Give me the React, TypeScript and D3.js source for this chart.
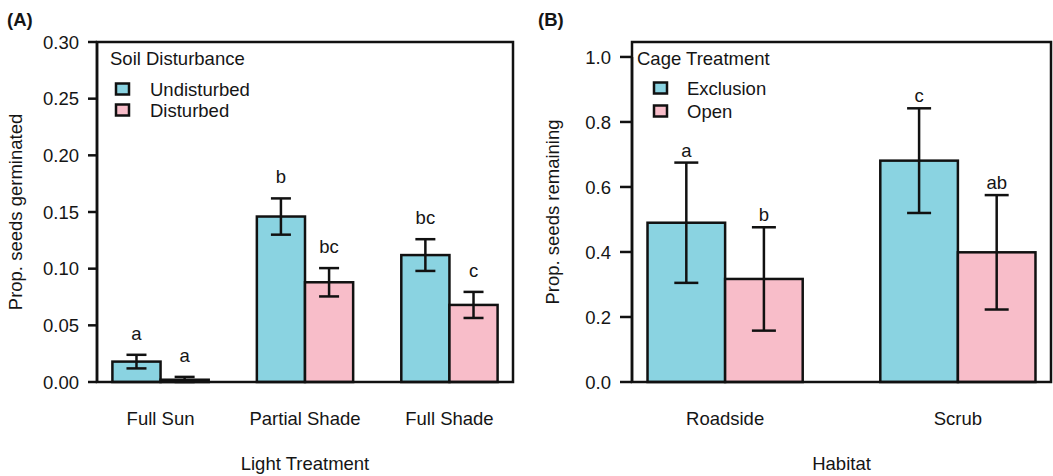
import React from 'react';
import * as d3 from 'd3';

// Panel A: germination by light treatment
const lightCategories = ['Full Sun', 'Partial Shade', 'Full Shade'];
const soilSeries = ['Undisturbed', 'Disturbed'];
const undisturbedMean = [0.018, 0.146, 0.112];
const undisturbedSE = [0.006, 0.016, 0.014];
const disturbedMean = [0.002, 0.088, 0.068];
const disturbedSE = [0.0025, 0.0125, 0.0115];
const undisturbedLetters = ['a', 'b', 'bc'];
const disturbedLetters = ['a', 'bc', 'c'];
const germTicks = [0, 0.05, 0.1, 0.15, 0.2, 0.25, 0.3];

// Panel B: seed removal by habitat
const habitatCategories = ['Roadside', 'Scrub'];
const cageSeries = ['Exclusion', 'Open'];
const exclusionMean = [0.49, 0.681];
const exclusionSE = [0.185, 0.161];
const openMean = [0.317, 0.399];
const openSE = [0.159, 0.176];
const exclusionLetters = ['a', 'c'];
const openLetters = ['b', 'ab'];
const remainTicks = [0, 0.2, 0.4, 0.6, 0.8, 1.0];

const colors = ['#8AD3E1', '#F8BDC9'];
const FONT = 'Liberation Sans, Arial, Helvetica, sans-serif';
const FS = 18.5;
const INK = '#151515';
const LW = 2.5;

type PanelProps = {
  tag: string;
  tagX: number;
  left: number;
  right: number;
  top: number;
  bottom: number;
  yMax: number;
  ticks: number[];
  fmt: string;
  tickLen: number;
  categories: string[];
  series: string[];
  means: number[][];
  ses: number[][];
  letters: string[][];
  letterGap: number;
  capHalf: number;
  yTitle: string;
  yTitleX: number;
  xTitle: string;
  legendTitle: string;
  legendTitleX: number;
  swatchX: number;
  legendTextX: number;
  legendY: number[];
};

function Panel(p: PanelProps) {
  const y = d3.scaleLinear().domain([0, p.yMax]).range([p.bottom, p.top]);
  // R barplot style: bars of width 1, one bar of space between groups, 4% margin
  const units = p.categories.length * (p.series.length + 1) - 1;
  const outer = (0.04 * units) / (p.series.length + 1);
  const x = d3
    .scaleBand<string>()
    .domain(p.categories)
    .range([p.left, p.right])
    .paddingInner(1 / (p.series.length + 1))
    .paddingOuter(outer);
  const xs = d3.scaleBand<string>().domain(p.series).range([0, x.bandwidth()]);
  const fmt = d3.format(p.fmt);
  const midX = (p.left + p.right) / 2;
  const midY = (p.top + p.bottom) / 2;

  return (
    <g fontFamily={FONT} fontSize={FS} fill={INK}>
      <text x={p.tagX} y={26} fontWeight="bold">{p.tag}</text>

      {/* bars */}
      {p.categories.map((c, i) =>
        p.series.map((s, j) => {
          const v = p.means[j][i];
          const se = p.ses[j][i];
          const bx = (x(c) as number) + (xs(s) as number);
          const cx = bx + xs.bandwidth() / 2;
          const hi = y(v + se);
          const lo = y(Math.max(0, v - se));
          return (
            <g key={c + s}>
              <rect
                x={bx}
                y={y(v)}
                width={xs.bandwidth()}
                height={p.bottom - y(v)}
                fill={colors[j]}
                stroke="#111"
                strokeWidth={LW}
              />
              <g stroke="#111" strokeWidth={LW}>
                <line x1={cx} x2={cx} y1={hi} y2={lo} />
                <line x1={cx - p.capHalf} x2={cx + p.capHalf} y1={hi} y2={hi} />
                <line x1={cx - p.capHalf} x2={cx + p.capHalf} y1={lo} y2={lo} />
              </g>
              <text x={cx} y={hi - p.letterGap} textAnchor="middle">
                {p.letters[j][i]}
              </text>
            </g>
          );
        })
      )}

      {/* box */}
      <rect
        x={p.left}
        y={p.top}
        width={p.right - p.left}
        height={p.bottom - p.top}
        fill="none"
        stroke="#111"
        strokeWidth={LW}
      />

      {/* y axis */}
      <line
        x1={p.left}
        x2={p.left}
        y1={y(p.ticks[0])}
        y2={y(p.ticks[p.ticks.length - 1])}
        stroke="#111"
        strokeWidth={LW}
      />
      {p.ticks.map((t) => (
        <g key={t}>
          <line
            x1={p.left - p.tickLen}
            x2={p.left}
            y1={y(t)}
            y2={y(t)}
            stroke="#111"
            strokeWidth={LW}
          />
          <text x={p.left - p.tickLen - 9} y={y(t)} dy="0.36em" textAnchor="end">
            {fmt(t)}
          </text>
        </g>
      ))}
      <text
        transform={`translate(${p.yTitleX},${midY}) rotate(-90)`}
        textAnchor="middle"
      >
        {p.yTitle}
      </text>

      {/* x labels */}
      {p.categories.map((c) => (
        <text key={c} x={(x(c) as number) + x.bandwidth() / 2} y={424.5} textAnchor="middle">
          {c}
        </text>
      ))}
      <text x={midX} y={469.5} textAnchor="middle">{p.xTitle}</text>

      {/* legend */}
      <text x={p.legendTitleX} y={65}>{p.legendTitle}</text>
      {p.series.map((s, j) => (
        <g key={s}>
          <rect
            x={p.swatchX}
            y={p.legendY[j] - 5.5}
            width={13}
            height={11}
            fill={colors[j]}
            stroke="#111"
            strokeWidth={LW}
          />
          <text x={p.legendTextX} y={p.legendY[j]} dy="0.36em">{s}</text>
        </g>
      ))}
    </g>
  );
}

export default function App() {
  return (
    <svg
      width={1053}
      height={476}
      style={{ position: 'absolute', left: 0, top: 0, background: '#fff' }}
    >
      <Panel
        tag="(A)"
        tagX={7}
        left={97}
        right={513}
        top={42}
        bottom={382}
        yMax={0.3}
        ticks={germTicks}
        fmt=".2f"
        tickLen={9}
        categories={lightCategories}
        series={soilSeries}
        means={[undisturbedMean, disturbedMean]}
        ses={[undisturbedSE, disturbedSE]}
        letters={[undisturbedLetters, disturbedLetters]}
        letterGap={15}
        capHalf={10}
        yTitle="Prop. seeds germinated"
        yTitleX={22}
        xTitle="Light Treatment"
        legendTitle="Soil Disturbance"
        legendTitleX={110}
        swatchX={116}
        legendTextX={150}
        legendY={[89, 110]}
      />
      <Panel
        tag="(B)"
        tagX={538}
        left={632}
        right={1051}
        top={42}
        bottom={382}
        yMax={1.046}
        ticks={remainTicks}
        fmt=".1f"
        tickLen={12}
        categories={habitatCategories}
        series={cageSeries}
        means={[exclusionMean, openMean]}
        ses={[exclusionSE, openSE]}
        letters={[exclusionLetters, openLetters]}
        letterGap={6}
        capHalf={12}
        yTitle="Prop. seeds remaining"
        yTitleX={559}
        xTitle="Habitat"
        legendTitle="Cage Treatment"
        legendTitleX={637}
        swatchX={654}
        legendTextX={687}
        legendY={[88, 111]}
      />
    </svg>
  );
}
